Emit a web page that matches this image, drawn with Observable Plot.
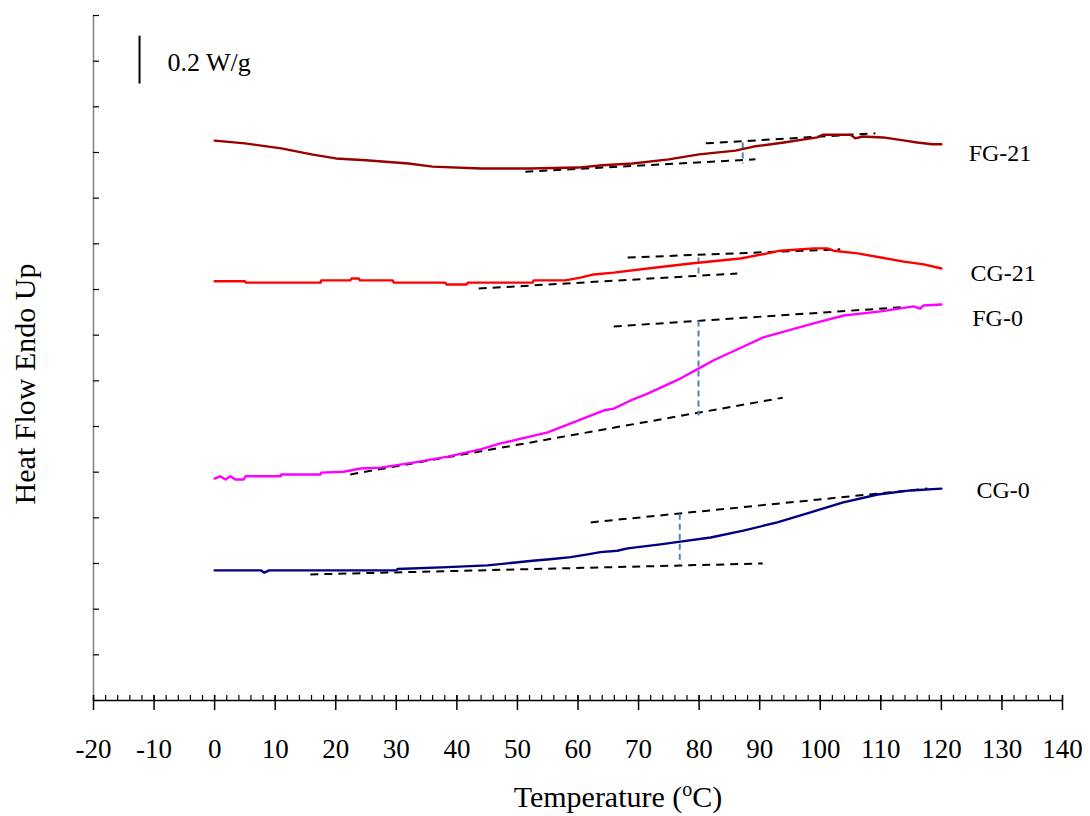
<!DOCTYPE html>
<html><head><meta charset="utf-8">
<script src="https://cdn.jsdelivr.net/npm/d3@7"></script>
<script src="https://cdn.jsdelivr.net/npm/@observablehq/plot@0.6"></script>
<style>body{margin:0;background:#fff} #chart svg{display:block}</style>
</head><body><div id="chart"></div>
<script>
// ---- data (temperature in °C, heat flow in arbitrary offset units) ----
const majorTicks = [-20,-10,0,10,20,30,40,50,60,70,80,90,100,110,120,130,140];
const minorTicks = d3.range(-20, 141, 2);
const yTicks = [0,1,2,3,4,5,6,7,8,9,10,11,12,13,14,15];

const seriesNames = ["FG-21","CG-21","FG-0","CG-0"];
const seriesColors = ["#990000","#FF0000","#FF00FF","#000080"];

const tFG21 = [0,5,11,16,20,25,32,36,44,52,60,64,69,75,80,86,89,94,99.5,100.5,105,105.8,107,110.4,114,116,118.5,120];
const hFG21 = [12.26,12.20,12.09,11.96,11.87,11.83,11.76,11.69,11.65,11.65,11.67,11.72,11.76,11.85,11.96,12.04,12.13,12.22,12.33,12.39,12.39,12.31,12.35,12.33,12.26,12.22,12.18,12.18];

const tCG21 = [0,5,5.2,17.5,17.6,22.4,22.6,23.8,24,29.4,29.6,38.1,38.3,41.6,41.8,52.5,52.7,57.9,60.4,62.6,65.9,71.5,78.6,86.8,91.3,93.4,98.9,101.2,102.2,106.2,110,113.8,117.1,120];
const hCG21 = [9.18,9.18,9.15,9.15,9.20,9.20,9.24,9.24,9.20,9.20,9.15,9.15,9.11,9.11,9.15,9.15,9.20,9.20,9.26,9.33,9.37,9.46,9.57,9.68,9.79,9.85,9.90,9.90,9.85,9.79,9.70,9.61,9.55,9.46];

const tFG0 = [0,0.9,1.8,2.6,3.4,4.8,5.1,10.9,11,17.5,17.6,21.3,24.1,27.4,32.8,38.5,43.9,47.2,55,60.4,64.2,65.9,68.7,71.5,76.9,80.2,82.4,85.2,90.6,98.9,103.9,110,115.4,116.5,117,120];
const hFG0 = [4.86,4.91,4.84,4.91,4.84,4.84,4.91,4.91,4.95,4.95,4.99,5.01,5.08,5.10,5.21,5.34,5.50,5.63,5.87,6.15,6.35,6.39,6.57,6.72,7.05,7.29,7.45,7.62,7.95,8.26,8.43,8.52,8.63,8.58,8.65,8.67];

const tCG0 = [0,7.6,8.2,9,30,30.2,38.5,45,48.9,52.5,55.8,58.8,61.6,63.7,66.5,68.2,73.6,76.9,81.9,87.3,92.9,98.4,103.8,109.5,114.9,120];
const hCG0 = [2.85,2.85,2.80,2.85,2.85,2.88,2.92,2.96,3.01,3.06,3.10,3.14,3.20,3.25,3.28,3.33,3.42,3.48,3.57,3.72,3.90,4.12,4.34,4.51,4.60,4.64];

// tangent (baseline) lines: start/end temperature and heat flow
const tanT1 = [51.3, 81.1, 43.6, 68.2, 22.4, 65.9, 15.8, 62.1];
const tanH1 = [11.58, 12.20, 9.02, 9.70, 4.95, 8.19, 2.76, 3.90];
const tanT2 = [89.3, 109.1, 86.3, 103.3, 93.8, 113.3, 90.5, 117.7];
const tanH2 = [11.85, 12.42, 9.35, 9.88, 6.63, 8.61, 3.00, 4.64];

// glass-transition step markers (vertical)
const tgT = [87.2, 79.9, 79.9, 76.8];
const tgTop = [12.22, 9.70, 8.32, 4.09];
const tgBottom = [11.76, 9.26, 6.24, 2.96];

// series labels
const labelT = [124.5, 124.8, 125.1, 125.8];
const labelH = [11.98, 9.35, 8.36, 4.60];

// scale bar
const scaleBarT = [-12.4];
const scaleBarTop = [14.56];
const scaleBarBottom = [13.51];
const scaleText = ["0.2 W/g"];
const scaleTextT = [-7.8];
const scaleTextH = [13.97];

const xTitle = "Temperature (oC)";
const yTitle = "Heat Flow Endo Up";

// ---- build tables ----
const allT = [tFG21, tCG21, tFG0, tCG0];
const allH = [hFG21, hCG21, hFG0, hCG0];
const curves = [];
seriesNames.forEach((s, k) => allT[k].forEach((t, i) => curves.push({series: s, t, h: allH[k][i]})));
const tangents = tanT1.map((t, i) => ({t1: t, h1: tanH1[i], t2: tanT2[i], h2: tanH2[i]}));
const tgs = tgT.map((t, i) => ({t, top: tgTop[i], bottom: tgBottom[i]}));
const labels = seriesNames.map((s, i) => ({s, t: labelT[i], h: labelH[i]}));
const bars = scaleBarT.map((t, i) => ({t, top: scaleBarTop[i], bottom: scaleBarBottom[i]}));
const stexts = scaleText.map((s, i) => ({s, t: scaleTextT[i], h: scaleTextH[i]}));

const font = "'Liberation Serif','Times New Roman',Times,serif";

const chart = Plot.plot({
  width: 1090, height: 816,
  marginLeft: 93, marginRight: 28, marginTop: 15, marginBottom: 116,
  x: {domain: [-20, 140]},
  y: {domain: [0, 15]},
  color: {domain: seriesNames, range: seriesColors},
  style: {fontFamily: font, fontSize: "26px", color: "black", background: "white", overflow: "visible"},
  marks: [
    Plot.ruleX([-20], {stroke: "#808080", strokeWidth: 1.5}),
    Plot.ruleY([0], {stroke: "black", strokeWidth: 1.5}),
    Plot.axisY({ticks: yTicks, tickSize: 6, dx: 6, tickFormat: () => "", label: null, stroke: "black", strokeWidth: 1.2}),
    Plot.axisX({ticks: minorTicks, tickSize: 5, dy: -5, tickFormat: () => "", label: null, strokeWidth: 1.2}),
    Plot.axisX({ticks: majorTicks, tickSize: 15, dy: -5, tickFormat: () => "", label: null, strokeWidth: 1.5}),
    Plot.axisX({ticks: majorTicks, tickSize: 0, tickPadding: 38, tickFormat: d => String(d), label: null, fontSize: 27, fill: "black"}),
    Plot.text([xTitle], {frameAnchor: "bottom", textAnchor: "middle", dx: 40, dy: 97, lineAnchor: "middle", fontSize: 30, fill: "black"}),
    Plot.text([yTitle], {frameAnchor: "left", textAnchor: "middle", dx: -68, dy: 26, rotate: -90, lineAnchor: "middle", fontSize: 30, fill: "black"}),
    Plot.link(tangents, {x1: "t1", y1: "h1", x2: "t2", y2: "h2", stroke: "black", strokeWidth: 2, strokeDasharray: "8,6"}),
    Plot.link(tgs, {x1: "t", y1: "top", x2: "t", y2: "bottom", stroke: "#4F81BD", strokeWidth: 2, strokeDasharray: "6,4"}),
    Plot.line(curves, {x: "t", y: "h", z: "series", stroke: "series", strokeWidth: 2.4}),
    Plot.text(labels, {x: "t", y: "h", text: "s", textAnchor: "start", fontSize: 24, fill: "black"}),
    Plot.link(bars, {x1: "t", y1: "top", x2: "t", y2: "bottom", stroke: "black", strokeWidth: 2}),
    Plot.text(stexts, {x: "t", y: "h", text: "s", textAnchor: "start", fontSize: 26, fill: "black"})
  ]
});

// superscript "o" in the x-axis title
d3.select(chart).selectAll("text").filter(function() { return this.textContent === xTitle; }).each(function() {
  const t = d3.select(this);
  t.text(null);
  t.append("tspan").text("Temperature (");
  t.append("tspan").attr("dy", -11).attr("font-size", 20).text("o");
  t.append("tspan").attr("dy", 11).text("C)");
});

document.getElementById("chart").appendChild(chart);
</script>
</body></html>
